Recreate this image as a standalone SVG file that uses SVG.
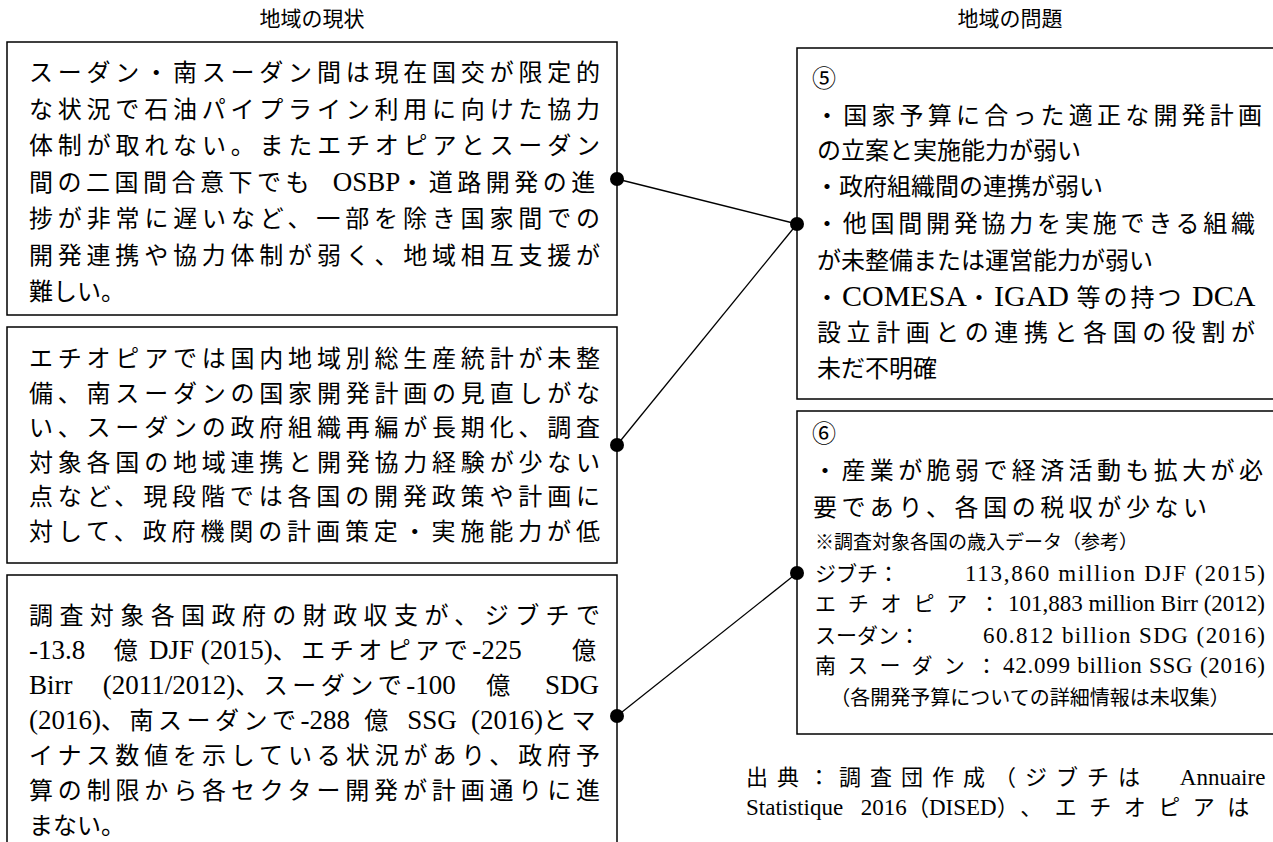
<svg xmlns="http://www.w3.org/2000/svg" width="1273" height="842" viewBox="0 0 1273 842">
<style>
.bg{fill:#fff}
.box{fill:#fff;stroke:#000;stroke-width:1.5}
.t{font-family:'Liberation Serif','Noto Sans CJK JP',serif;font-size:24px;fill:#000}
.L{font-size:27px}
.XL{font-size:30px}
.s{font-size:19px}
.m{font-size:21px}
.n{font-size:23px}
.f{font-size:22px}
.fL{font-size:23px}
.h{font-family:'Liberation Serif','Noto Sans CJK JP',serif;font-size:21px;fill:#000;text-anchor:middle}
.c{stroke:#000;stroke-width:1.3;fill:none}
.d{fill:#000}
</style>
<rect class="bg" x="0" y="0" width="1273" height="842"/>
<text class="h" x="312" y="26">地域の現状</text>
<text class="h" x="1010" y="26">地域の問題</text>

<g id="node-status1">
<rect class="box" x="7" y="42" width="610" height="273"/>
<text class="t" x="29" y="81" textLength="571" lengthAdjust="spacing">スーダン・南スーダン間は現在国交が限定的</text>
<text class="t" x="29" y="117.5" textLength="571" lengthAdjust="spacing">な状況で石油パイプライン利用に向けた協力</text>
<text class="t" x="29" y="154" textLength="571" lengthAdjust="spacing">体制が取れない。またエチオピアとスーダン</text>
<text class="t" x="29" y="190.5" style="word-spacing:12px"><tspan style="letter-spacing:4.5px">間の二国間合意下でも</tspan><tspan class="L"> OSBP</tspan><tspan style="letter-spacing:4.5px">・道路開発の進</tspan></text>
<text class="t" x="29" y="227" textLength="571" lengthAdjust="spacing">捗が非常に遅いなど、一部を除き国家間での</text>
<text class="t" x="29" y="263.5" textLength="571" lengthAdjust="spacing">開発連携や協力体制が弱く、地域相互支援が</text>
<text class="t" x="29" y="300">難しい。</text>
</g>

<g id="node-status2">
<rect class="box" x="7" y="327" width="610" height="236"/>
<text class="t" x="29" y="367" textLength="571" lengthAdjust="spacing">エチオピアでは国内地域別総生産統計が未整</text>
<text class="t" x="29" y="401.5" textLength="571" lengthAdjust="spacing">備、南スーダンの国家開発計画の見直しがな</text>
<text class="t" x="29" y="436" textLength="571" lengthAdjust="spacing">い、スーダンの政府組織再編が長期化、調査</text>
<text class="t" x="29" y="470.5" textLength="571" lengthAdjust="spacing">対象各国の地域連携と開発協力経験が少ない</text>
<text class="t" x="29" y="505" textLength="571" lengthAdjust="spacing">点など、現段階では各国の開発政策や計画に</text>
<text class="t" x="29" y="539.5" textLength="571" lengthAdjust="spacing">対して、政府機関の計画策定・実施能力が低</text>
</g>

<g id="node-status3">
<rect class="box" x="7" y="575" width="610" height="290"/>
<text class="t" x="29" y="624" textLength="571" lengthAdjust="spacing">調査対象各国政府の財政収支が、ジブチで</text>
<text class="t" x="29" y="659"><tspan class="L">-13.8</tspan><tspan style="letter-spacing:4.5px">　億</tspan><tspan class="L"> DJF (2015)</tspan><tspan style="letter-spacing:4.5px">、エチオピアで</tspan><tspan class="L">-225 </tspan><tspan x="572">億</tspan></text>
<text class="t" x="29" y="694" style="word-spacing:23.6px"><tspan class="L">Birr (2011/2012)</tspan><tspan style="letter-spacing:4.5px">、スーダンで</tspan><tspan class="L">-100 </tspan><tspan style="letter-spacing:4.5px">億</tspan><tspan class="L"> SDG</tspan></text>
<text class="t" x="29" y="729" style="word-spacing:7.6px"><tspan class="L">(2016)</tspan><tspan style="letter-spacing:4.5px">、南スーダンで</tspan><tspan class="L">-288 </tspan><tspan style="letter-spacing:4.5px">億</tspan><tspan class="L"> SSG (2016)</tspan><tspan style="letter-spacing:4.5px">とマ</tspan></text>
<text class="t" x="29" y="764" textLength="571" lengthAdjust="spacing">イナス数値を示している状況があり、政府予</text>
<text class="t" x="29" y="799" textLength="571" lengthAdjust="spacing">算の制限から各セクター開発が計画通りに進</text>
<text class="t" x="29" y="834">まない。</text>
</g>

<g id="node-problem5">
<rect class="box" x="797" y="48" width="490" height="351"/>
<text class="t" x="812" y="87">⑤</text>
<text class="t" x="815" y="124" textLength="447" lengthAdjust="spacing">・国家予算に合った適正な開発計画</text>
<text class="t" x="817" y="159">の立案と実施能力が弱い</text>
<text class="t" x="815" y="195">・政府組織間の連携が弱い</text>
<text class="t" x="815" y="232" textLength="440" lengthAdjust="spacing">・他国間開発協力を実施できる組織</text>
<text class="t" x="817" y="269">が未整備または運営能力が弱い</text>
<text class="t" x="815" y="306"><tspan style="letter-spacing:3px">・</tspan><tspan class="XL">COMESA</tspan><tspan style="letter-spacing:3px">・</tspan><tspan class="XL">IGAD </tspan><tspan style="letter-spacing:3px">等の持つ</tspan><tspan class="XL"> DCA</tspan></text>
<text class="t" x="817" y="341" textLength="438" lengthAdjust="spacing">設立計画との連携と各国の役割が</text>
<text class="t" x="817" y="377">未だ不明確</text>
</g>

<g id="node-problem6">
<rect class="box" x="797" y="411" width="490" height="323"/>
<text class="t" x="812" y="442">⑥</text>
<text class="t" x="813" y="479" textLength="450" lengthAdjust="spacing">・産業が脆弱で経済活動も拡大が必</text>
<text class="t" x="813" y="516" textLength="394" lengthAdjust="spacing">要であり、各国の税収が少ない</text>
<text class="t s" x="815" y="549">※調査対象各国の歳入データ（参考）</text>
<text class="t m" x="815" y="581">ジブチ：</text>
<text class="t n" x="965" y="581" textLength="300" lengthAdjust="spacing">113,860 million DJF (2015)</text>
<text class="t m" x="815" y="611" textLength="185" lengthAdjust="spacing">エチオピア：</text>
<text class="t n" x="1008" y="611" textLength="257" lengthAdjust="spacing">101,883 million Birr (2012)</text>
<text class="t m" x="815" y="643">スーダン：</text>
<text class="t n" x="983" y="643" textLength="282" lengthAdjust="spacing">60.812 billion SDG (2016)</text>
<text class="t m" x="815" y="673" textLength="182" lengthAdjust="spacing">南スーダン：</text>
<text class="t n" x="1003" y="673" textLength="262" lengthAdjust="spacing">42.099 billion SSG (2016)</text>
<text class="t" x="1030" y="705" style="font-size:20px" text-anchor="middle">（各開発予算についての詳細情報は未収集）</text>
</g>

<g id="source-note">
<text class="t f" x="746" y="785" style="word-spacing:25px"><tspan style="letter-spacing:9px">出典：調査団作成（ジブチは</tspan><tspan class="fL"> Annuaire</tspan></text>
<text class="t f" x="746" y="815" style="word-spacing:12px"><tspan class="fL">Statistique 2016</tspan><tspan>（</tspan><tspan class="fL">DISED</tspan><tspan style="letter-spacing:12.5px">）、エチオピアは</tspan></text>
</g>

<g id="connectors">
<line class="c" x1="617" y1="179" x2="797" y2="224"/>
<line class="c" x1="617" y1="445" x2="797" y2="224"/>
<line class="c" x1="617" y1="716" x2="797" y2="573"/>
<circle class="d" cx="617" cy="179" r="7"/>
<circle class="d" cx="617" cy="445" r="7"/>
<circle class="d" cx="617" cy="716" r="7"/>
<circle class="d" cx="797" cy="224" r="7"/>
<circle class="d" cx="797" cy="573" r="7"/>
</g>
</svg>
